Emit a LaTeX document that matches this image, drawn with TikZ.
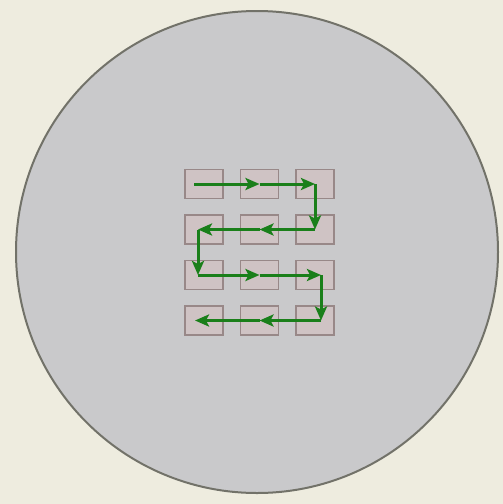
\documentclass[tikz,border=0pt]{standalone}
\usepackage{tikz}
\usetikzlibrary{positioning, arrows.meta}

\definecolor{paper}{HTML}{EEECDF}
\definecolor{wafer}{HTML}{C9C9CB}
\definecolor{rim}{HTML}{727269}
\definecolor{die}{HTML}{CFC3C4}
\definecolor{dieline}{HTML}{988888}
\definecolor{scan}{HTML}{1A7F1A}

\tikzset{
  die/.style={draw=dieline, fill=die, line width=1.8pt, minimum width=38pt, minimum height=29pt, outer sep=0pt, inner sep=0pt},
  move/.style={draw=scan, line width=3pt, -{Stealth[length=14pt,width=12pt,inset=3pt]}}
}

\begin{document}
\begin{tikzpicture}[x=1pt,y=-1pt,node distance=16.5pt and 17.5pt]
      \fill[paper] (0,0) rectangle (503,504);
      \useasboundingbox (0,0) rectangle (503,504);
      \draw[rim, fill=wafer, line width=2pt] (257,252) circle (241);

      % dies, row by row
      \node[die] (c11) at (204,184) {};
      \node[die] (c12) [right=of c11] {};
      \node[die] (c13) [right=of c12] {};
      \node[die] (c21) [below=of c11] {};
      \node[die] (c22) [right=of c21] {};
      \node[die] (c23) [right=of c22] {};
      \node[die] (c31) [below=of c21] {};
      \node[die] (c32) [right=of c31] {};
      \node[die] (c33) [right=of c32] {};
      \node[die] (c41) [below=of c31] {};
      \node[die] (c42) [right=of c41] {};
      \node[die] (c43) [right=of c42] {};

      % scan path
      \coordinate (s0) at ([xshift=-10pt]c11.center);
      \coordinate (t1) at ([xshift=-6pt]c21.center);
      \coordinate (t2) at ([xshift=-6pt]c31.center);
      \coordinate (t3) at ([xshift=6pt]c33.center);
      \coordinate (t4) at ([xshift=6pt]c43.center);
      \coordinate (t5) at ([xshift=-9pt]c41.center);

      \draw[move] (s0) -- (c12.center);
      \draw[move] (c12.center) -- (c13.center);
      \draw[move] (c13.center) -- (c23.center);
      \draw[move] (c23.center) -- (c22.center);
      \draw[move] (c22.center) -- (t1);
      \draw[move] (t1) -- (t2);
      \draw[move] (t2) -- (c32.center);
      \draw[move] (c32.center) -- (t3);
      \draw[move] (t3) -- (t4);
      \draw[move] (t4) -- (c42.center);
      \draw[move] (c42.center) -- (t5);
\end{tikzpicture}
\end{document}
